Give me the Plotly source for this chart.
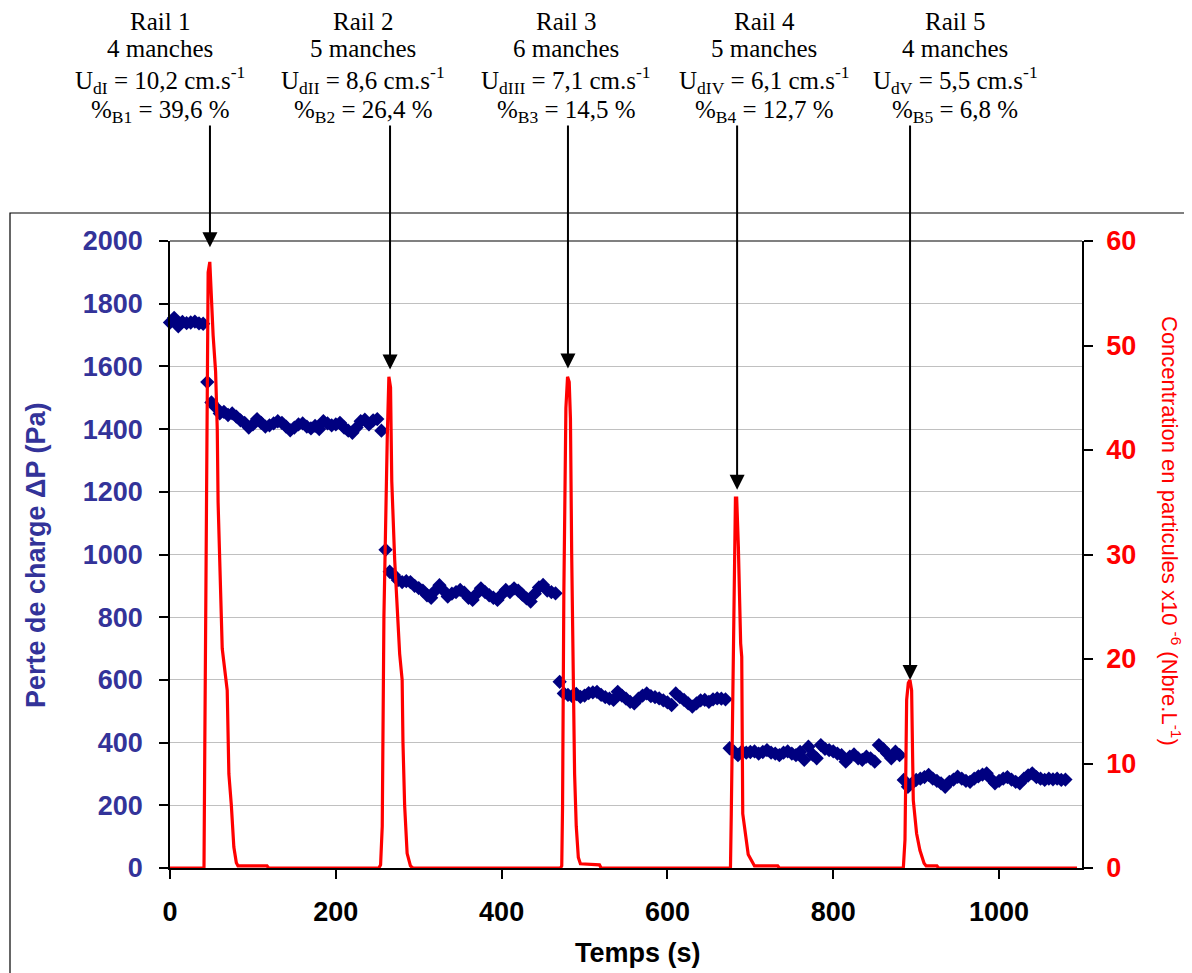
import plotly.graph_objects as go

# ---------------- Data ----------------
# Pressure drop (Pa) vs time (s) -- blue diamonds
p_time = [
    0, 5, 10, 15, 20, 25, 30, 35, 40,
    45, 50, 55, 60, 65, 70, 75, 80, 85, 90, 95, 100, 105, 110, 115, 120, 125, 130, 135, 140,
    145, 150, 155, 160, 165, 170, 175, 180, 185, 190, 195, 200, 205, 210, 215, 220, 225, 230,
    235, 240, 245, 250, 255,
    260, 265, 270, 275, 280, 285, 290, 295, 300, 305, 310, 315, 320, 325, 330, 335, 340, 345,
    350, 355, 360, 365, 370, 375, 380, 385, 390, 395, 400, 405, 410, 415, 420, 425, 430, 435,
    440, 445, 450, 455, 460, 465,
    470, 475, 480, 485, 490, 495, 500, 505, 510, 515, 520, 525, 530, 535, 540, 545, 550, 555,
    560, 565, 570, 575, 580, 585, 590, 595, 600, 605, 610, 615, 620, 625, 630, 635, 640, 645,
    650, 655, 660, 665, 670,
    675, 680, 685, 690, 695, 700, 705, 710, 715, 720, 725, 730, 735, 740, 745, 750, 755, 760,
    765, 770, 775, 780, 785, 790, 795, 800, 805, 810, 815, 820, 825, 830, 835, 840, 845, 850,
    855, 860, 865, 870, 875, 880,
    885, 890, 895, 900, 905, 910, 915, 920, 925, 930, 935, 940, 945, 950, 955, 960, 965, 970,
    975, 980, 985, 990, 995, 1000, 1005, 1010, 1015, 1020, 1025, 1030, 1035, 1040, 1045, 1050,
    1055, 1060, 1065, 1070, 1075, 1080,
]
p_vals = [
    1740, 1755, 1728, 1742, 1738, 1740, 1743, 1737, 1736,
    1550, 1485, 1470, 1450, 1455, 1445, 1450, 1440, 1428, 1420, 1405, 1415, 1432, 1420, 1408,
    1412, 1418, 1425, 1420, 1408, 1396, 1405, 1415, 1418, 1408, 1402, 1410, 1400, 1425, 1418,
    1412, 1415, 1420, 1405, 1395, 1388, 1405, 1425, 1430, 1415, 1428, 1432, 1395,
    1015, 945, 935, 918, 912, 915, 912, 900, 893, 885, 870, 862, 885, 902, 885, 866, 875, 880,
    887, 878, 862, 855, 875, 892, 880, 870, 862, 855, 872, 887, 880, 892, 885, 872, 860, 850,
    875, 895, 903, 885, 880, 876,
    594, 557, 552, 548, 555, 546, 550, 558, 560, 562, 552, 545, 540, 536, 562, 550, 540, 530,
    525, 540, 550, 557, 548, 545, 541, 535, 528, 520, 557, 545, 536, 525, 515, 525, 535, 536,
    530, 538, 541, 540, 538,
    382, 372, 360, 372, 368, 370, 372, 365, 370, 376, 368, 365, 360, 368, 372, 365, 360, 370,
    345, 387, 362, 350, 392, 380, 376, 372, 365, 360, 339, 355, 362, 350, 345, 355, 350, 339,
    392, 380, 365, 350, 371, 360,
    281, 259, 270, 281, 285, 290, 297, 285, 278, 270, 259, 275, 282, 291, 285, 278, 275, 285,
    292, 298, 302, 285, 270, 278, 285, 290, 282, 275, 270, 285, 295, 302, 290, 285, 281, 285,
    283, 285, 281, 282,
]
assert len(p_time) == len(p_vals)

# Particle concentration (x10^-6 Nbre/L) vs time (s) -- red line
c_time = [
    0,
    41, 42, 46, 48, 52, 55, 57, 58, 63, 69, 71, 74, 77, 80, 82, 117, 119,
    252, 254, 256, 258, 262, 264, 266, 267.5, 271, 277, 280, 281, 283, 286, 290, 293,
    471, 472.5, 473.5, 475, 477.5, 479.5, 481.5, 483, 484.5, 486, 488, 490, 492.5, 495, 518, 520,
    676, 677, 679, 680.5, 682, 683.5, 685.5, 688.3, 689.6, 690.8, 694.6, 697.4, 705, 733, 735,
    884.5, 886.5, 888.5, 890.5, 892.5, 894.5, 896.5, 900.5, 904.5, 909.5, 912, 925, 927,
    1094,
]
c_vals = [
    0,
    0, 12, 57, 58, 51, 47.5, 42, 35, 21, 17, 9, 6, 2, 0.5, 0.2, 0.2, 0,
    0, 0.3, 4, 24, 41, 47, 46, 37, 29.5, 20.5, 18, 12, 6, 1.4, 0.2, 0,
    0, 0.2, 6, 26, 44, 47, 46.5, 43, 30, 20, 9, 4, 1, 0.4, 0.3, 0,
    0, 5.2, 18, 29, 35.4, 35.4, 30.8, 21.5, 20.2, 5.2, 2.7, 1.3, 0.2, 0.2, 0,
    0, 2.7, 16.1, 17.7, 18, 17, 6.5, 3.3, 1.7, 0.45, 0.2, 0.2, 0,
    0,
]
assert len(c_time) == len(c_vals)

# Rail annotations
rail_titles = ["Rail 1", "Rail 2", "Rail 3", "Rail 4", "Rail 5"]
rail_manches = ["4 manches", "5 manches", "6 manches", "5 manches", "4 manches"]
rail_ud = [
    "U<sub>dI</sub> = 10,2 cm.s<sup>-1</sup>",
    "U<sub>dII</sub> = 8,6 cm.s<sup>-1</sup>",
    "U<sub>dIII</sub> = 7,1 cm.s<sup>-1</sup>",
    "U<sub>dIV</sub> = 6,1 cm.s<sup>-1</sup>",
    "U<sub>dV</sub> = 5,5 cm.s<sup>-1</sup>",
]
rail_pb = [
    "%<sub>B1</sub> = 39,6 %",
    "%<sub>B2</sub> = 26,4 %",
    "%<sub>B3</sub> = 14,5 %",
    "%<sub>B4</sub> = 12,7 %",
    "%<sub>B5</sub> = 6,8 %",
]
rail_text_x = [160, 363, 566, 764, 955]          # text centres (page px)
arrow_t = [48.2, 265.4, 480, 684, 892.6]           # arrow tip time (s)
arrow_c = [59.4, 47.7, 47.8, 36.2, 18.0]           # arrow tip concentration

x_ticks = [0, 200, 400, 600, 800, 1000]

# ---------------- Geometry ----------------
# page has an 8 px body margin; the figure is drawn at (8, 8)
OFF = 8
W, H = 1192 - OFF, 973 - OFF
L, T = 170 - OFF, 241 - OFF
PW, PH = 912, 627
R = W - L - PW
B = H - T - PH

def px_x(p):   # page px -> paper x
    return (p - OFF - L) / PW

def px_y(p):   # page px -> paper y
    return (T + PH - (p - OFF)) / PH

BLUE_TXT = "#333399"
NAVY = "#000080"
RED = "#FF0000"

fig = go.Figure()
fig.add_trace(go.Scatter(
    x=p_time, y=p_vals, mode="markers",
    marker=dict(symbol="diamond", size=11, color=NAVY),
    cliponaxis=False, yaxis="y", name="Perte de charge",
))
fig.add_trace(go.Scatter(
    x=c_time, y=c_vals, mode="lines",
    line=dict(color=RED, width=3.2),
    yaxis="y2", name="Concentration",
))

fig.update_layout(
    width=W, height=H,
    margin=dict(l=L, r=R, t=T, b=B),
    plot_bgcolor="white", paper_bgcolor="white",
    showlegend=False,
    font=dict(family="Liberation Sans, Arial", size=16, color="black"),
    xaxis=dict(
        range=[0, 1100], tickvals=x_ticks, showgrid=False, zeroline=False,
        showline=True, linecolor="black", linewidth=1.5,
        ticks="outside", ticklen=9, tickcolor="black", tickwidth=1.5,
        tickfont=dict(size=27, color="black", weight="bold"),
        ticklabelstandoff=10,
    ),
    yaxis=dict(
        range=[0, 2000], dtick=200, showgrid=True, gridcolor="#C0C0C0", gridwidth=1,
        zeroline=False, showline=True, linecolor="black", linewidth=1.5,
        ticks="outside", ticklen=9, tickcolor="black", tickwidth=1.5,
        tickfont=dict(size=27, color=BLUE_TXT, weight="bold"),
        ticklabelstandoff=11,
    ),
    yaxis2=dict(
        range=[0, 60], dtick=10, overlaying="y", side="right", showgrid=False,
        zeroline=False, showline=True, linecolor="black", linewidth=1.5,
        ticks="outside", ticklen=9, tickcolor="black", tickwidth=1.5,
        tickfont=dict(size=27, color=RED, weight="bold"),
        ticklabelstandoff=8,
    ),
)

shapes = [
    # outer chart frame
    dict(type="rect", xref="paper", yref="paper",
         x0=px_x(10), x1=px_x(1200), y0=px_y(990), y1=px_y(213),
         line=dict(color="black", width=1.2), fillcolor="rgba(0,0,0,0)", layer="below"),
    # plot-area top border
    dict(type="line", xref="paper", yref="paper", x0=0, x1=1, y0=1, y1=1,
         line=dict(color="#808080", width=2)),
]
fig.update_layout(shapes=shapes)

ann = []
serif = "Liberation Serif, Times New Roman"
line_y = [21, 49, 80, 111]
for i in range(5):
    for txt, yy in zip([rail_titles[i], rail_manches[i], rail_ud[i], rail_pb[i]], line_y):
        ann.append(dict(
            xref="paper", yref="paper", x=px_x(rail_text_x[i]), y=px_y(yy),
            text=txt, showarrow=False, xanchor="center", yanchor="middle",
            font=dict(family=serif, size=25, color="black"),
        ))
    # arrow from below the text block down to the concentration peak
    tip_frac = arrow_c[i] / 60.0
    tail_frac = px_y(124)
    ann.append(dict(
        xref="x", yref="y2", x=arrow_t[i], y=arrow_c[i], text="",
        showarrow=True, arrowhead=2, arrowsize=1.5, arrowwidth=2, arrowcolor="black",
        axref="pixel", ayref="pixel", ax=0, ay=-(tail_frac - tip_frac) * PH,
        standoff=0,
    ))

# axis titles
ann.append(dict(
    xref="paper", yref="paper", x=px_x(36), y=px_y(555), text="Perte de charge ΔP (Pa)",
    textangle=-90, showarrow=False, xanchor="center", yanchor="middle",
    font=dict(family="Liberation Sans, Arial", size=27, color=BLUE_TXT, weight="bold"),
))
ann.append(dict(
    xref="paper", yref="paper", x=px_x(1171), y=px_y(531),
    text="Concentration en particules x10 <sup>-6</sup> (Nbre.L<sup>-1</sup>)",
    textangle=90, showarrow=False, xanchor="center", yanchor="middle",
    font=dict(family="Liberation Sans, Arial", size=22, color=RED),
))
ann.append(dict(
    xref="paper", yref="paper", x=px_x(638), y=px_y(953), text="Temps (s)",
    showarrow=False, xanchor="center", yanchor="middle",
    font=dict(family="Liberation Sans, Arial", size=27, color="black", weight="bold"),
))
fig.update_layout(annotations=ann)

fig.write_html("out.html")
